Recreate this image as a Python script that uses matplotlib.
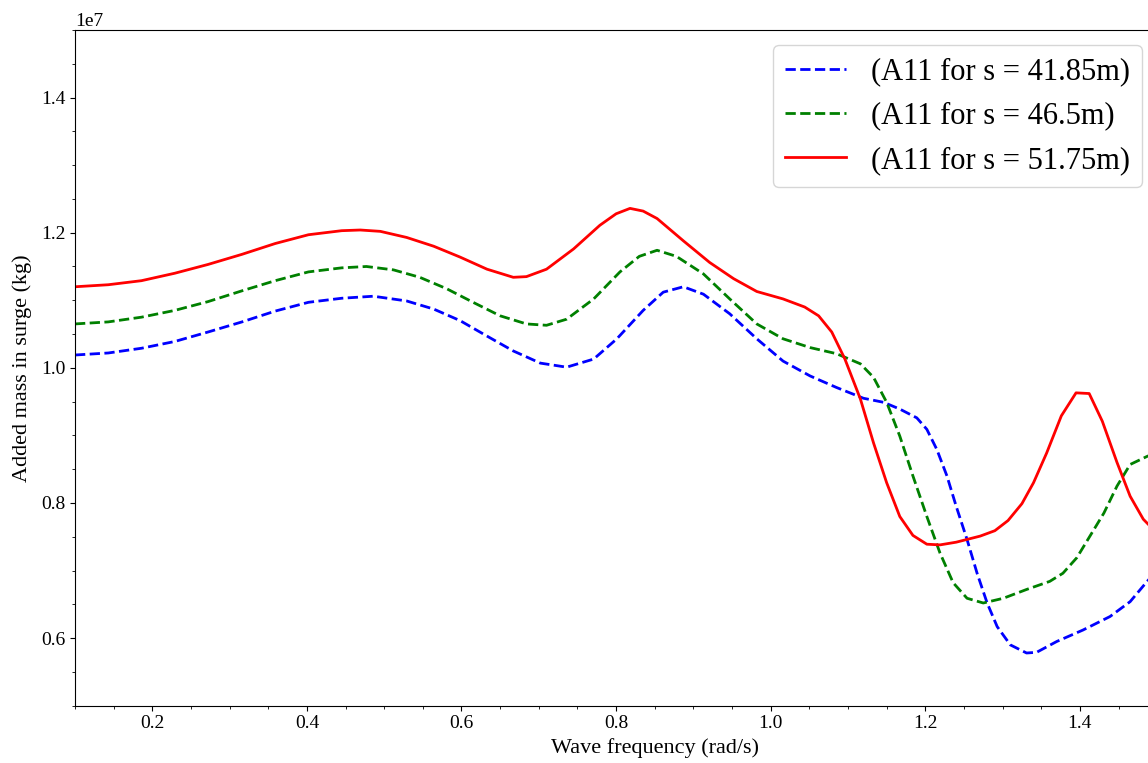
import numpy as np
import matplotlib
matplotlib.use("Agg")
import matplotlib.pyplot as plt
from matplotlib.ticker import AutoMinorLocator

plt.rcParams["font.family"] = ["Liberation Serif", "DejaVu Serif"]

# Surge added mass A11 (units of 1e7 kg) versus wave frequency (rad/s)
freq_s41 = [0.100, 0.143, 0.186, 0.229, 0.272, 0.316, 0.359, 0.402, 0.445, 0.486,
            0.529, 0.564, 0.598, 0.633, 0.667, 0.702, 0.736, 0.771, 0.801, 0.835,
            0.861, 0.887, 0.913, 0.947, 0.982, 1.016, 1.051, 1.085, 1.120, 1.146,
            1.167, 1.189, 1.202, 1.215, 1.228, 1.240, 1.254, 1.267, 1.280, 1.293,
            1.310, 1.331, 1.344, 1.370, 1.404, 1.439, 1.465, 1.487, 1.500]
a11_s41 = [1.019, 1.022, 1.029, 1.039, 1.053, 1.068, 1.084, 1.097, 1.103, 1.106,
           1.099, 1.087, 1.070, 1.047, 1.025, 1.007, 1.001, 1.013, 1.043, 1.085,
           1.112, 1.120, 1.109, 1.080, 1.043, 1.010, 0.988, 0.971, 0.955, 0.949,
           0.939, 0.926, 0.909, 0.879, 0.840, 0.795, 0.746, 0.696, 0.652, 0.617,
           0.590, 0.578, 0.579, 0.595, 0.612, 0.632, 0.654, 0.684, 0.700]

freq_s46 = [0.100, 0.143, 0.186, 0.229, 0.272, 0.316, 0.359, 0.402, 0.445, 0.477,
            0.512, 0.546, 0.581, 0.615, 0.650, 0.684, 0.710, 0.736, 0.771, 0.805,
            0.830, 0.853, 0.878, 0.913, 0.947, 0.982, 1.016, 1.051, 1.085, 1.116,
            1.133, 1.150, 1.167, 1.184, 1.202, 1.219, 1.236, 1.254, 1.275, 1.301,
            1.331, 1.361, 1.378, 1.396, 1.413, 1.431, 1.448, 1.465, 1.487, 1.500]
a11_s46 = [1.065, 1.068, 1.075, 1.085, 1.098, 1.114, 1.129, 1.142, 1.148, 1.150,
           1.145, 1.134, 1.117, 1.097, 1.077, 1.065, 1.063, 1.072, 1.102, 1.142,
           1.165, 1.174, 1.165, 1.139, 1.102, 1.065, 1.043, 1.030, 1.021, 1.006,
           0.986, 0.949, 0.899, 0.840, 0.780, 0.726, 0.682, 0.659, 0.652, 0.659,
           0.672, 0.684, 0.696, 0.719, 0.751, 0.785, 0.825, 0.857, 0.869, 0.875]

freq_s51 = [0.100, 0.143, 0.186, 0.229, 0.272, 0.316, 0.359, 0.402, 0.445, 0.469,
            0.495, 0.529, 0.564, 0.598, 0.633, 0.667, 0.684, 0.710, 0.745, 0.779,
            0.800, 0.818, 0.835, 0.853, 0.887, 0.921, 0.952, 0.982, 1.016, 1.044,
            1.062, 1.079, 1.096, 1.116, 1.133, 1.150, 1.167, 1.184, 1.202, 1.219,
            1.240, 1.271, 1.290, 1.307, 1.325, 1.340, 1.357, 1.376, 1.395, 1.412,
            1.429, 1.448, 1.465, 1.482, 1.500]
a11_s51 = [1.120, 1.123, 1.129, 1.140, 1.153, 1.168, 1.184, 1.197, 1.203, 1.204,
           1.202, 1.193, 1.180, 1.164, 1.146, 1.134, 1.135, 1.146, 1.176, 1.211,
           1.228, 1.236, 1.232, 1.221, 1.188, 1.156, 1.132, 1.113, 1.102, 1.090,
           1.077, 1.053, 1.013, 0.954, 0.889, 0.830, 0.780, 0.752, 0.739, 0.738,
           0.742, 0.751, 0.759, 0.774, 0.799, 0.830, 0.874, 0.929, 0.963, 0.962,
           0.921, 0.860, 0.810, 0.776, 0.755]

labels = ["(A11 for s = 41.85m)", "(A11 for s = 46.5m)", "(A11 for s = 51.75m)"]

W, H = 1148, 763
fig = plt.figure(figsize=(W / 100, H / 100), dpi=100)

x0, x1 = 0.1, 1.6
px_per_unit = 773.0
left, bottom, top = 75 / W, 57.3 / H, 733 / H
ax = fig.add_axes([left, bottom, (x1 - x0) * px_per_unit / W, top - bottom])

ax.plot(freq_s41, np.array(a11_s41) * 1e7, "b--", lw=2, label=labels[0])
ax.plot(freq_s46, np.array(a11_s46) * 1e7, "g--", lw=2, label=labels[1])
ax.plot(freq_s51, np.array(a11_s51) * 1e7, "r-", lw=2, label=labels[2])

ax.set_xlim(x0, x1)
ax.set_ylim(0.5e7, 1.5e7)
ax.set_xticks([0.2, 0.4, 0.6, 0.8, 1.0, 1.2, 1.4])
ax.set_yticks([0.6e7, 0.8e7, 1.0e7, 1.2e7, 1.4e7])
ax.xaxis.set_minor_locator(AutoMinorLocator(4))
ax.yaxis.set_minor_locator(AutoMinorLocator(4))
ax.tick_params(labelsize=14)
ax.yaxis.get_offset_text().set_fontsize(14)

ax.set_xlabel("Wave frequency (rad/s)", fontsize=16)
ax.set_ylabel("Added mass in surge (kg)", fontsize=16, labelpad=6)

handles, labs = ax.get_legend_handles_labels()
fig.legend(handles, labs, loc="upper right", fontsize=22,
           bbox_to_anchor=(1142 / W, 1 - 45 / H), bbox_transform=fig.transFigure,
           borderaxespad=0.0)

fig.savefig("out.png", dpi=100)
